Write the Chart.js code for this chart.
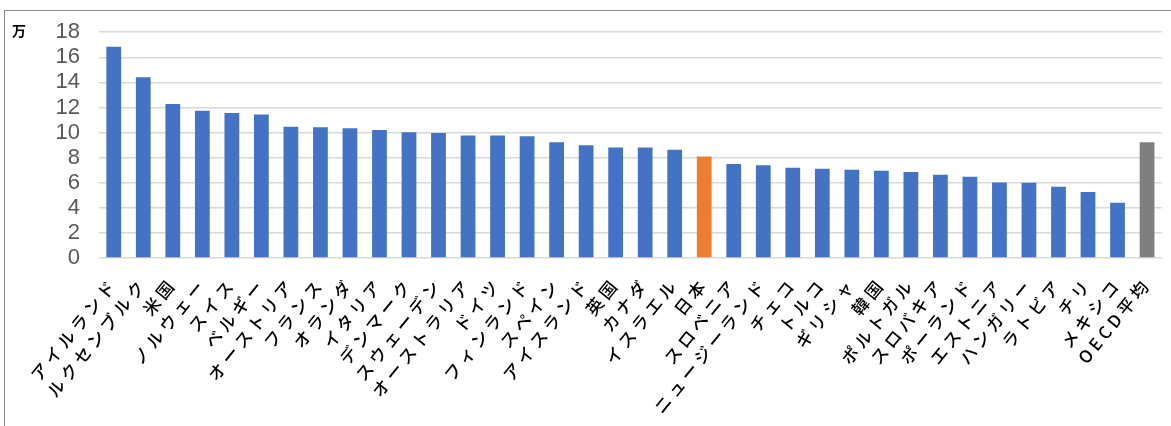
<!DOCTYPE html>
<html>
<head>
<meta charset="utf-8">
<script src="https://cdn.jsdelivr.net/npm/chart.js@4/dist/chart.umd.min.js"></script>
<style>
    html, body { margin: 0; padding: 0; background: #fff; }
    #wrap { position: relative; width: 1171px; height: 426px; overflow: hidden; }
    #frame { position: absolute; left: 4px; top: 10px; width: 1300px; height: 600px;
             border-left: 1.5px solid #8c8c8c; border-top: 1.5px solid #8c8c8c; }
    #chart { position: absolute; left: 0; top: 0; }
</style>
</head>
<body>
<div id="wrap">
    <div id="frame"></div>
    <canvas id="chart" width="1171" height="426"></canvas>
</div>
<script>
// Countries, ordered as in the reference
const countries = [
    'アイルランド', 'ルクセンブルク', '米国', 'ノルウェー', 'スイス', 'ベルギー',
    'オーストリア', 'フランス', 'オランダ', 'イタリア', 'デンマーク', 'スウェーデン',
    'オーストラリア', 'ドイツ', 'フィンランド', 'スペイン', 'アイスランド', '英国',
    'カナダ', 'イスラエル', '日本', 'スロベニア', 'ニュージーランド', 'チェコ',
    'トルコ', 'ギリシャ', '韓国', 'ポルトガル', 'スロバキア', 'ポーランド',
    'エストニア', 'ハンガリー', 'ラトビア', 'チリ', 'メキシコ', 'OECD平均'
];

// Values in 万
const values = [
    16.85, 14.4, 12.27, 11.74, 11.56, 11.43,
    10.47, 10.42, 10.34, 10.21, 10.03, 9.97,
    9.77, 9.77, 9.71, 9.22, 8.98, 8.8,
    8.8, 8.62, 8.1, 7.5, 7.4, 7.19,
    7.11, 7.03, 6.95, 6.85, 6.64, 6.48,
    6.02, 6.0, 5.68, 5.26, 4.4, 9.22
];

const yMin = 0;
const yMax = 18;
const yStep = 2;
const unitLabel = '万';

const BLUE = '#4472c4';
const ORANGE = '#ed7d31';
const GRAY = '#7f7f7f';

// Japan highlighted, OECD average in gray
const barColors = countries.map(c => {
    if (c === '日本') return ORANGE;
    if (c === 'OECD平均') return GRAY;
    return BLUE;
});

// Wider spacing for the rotated category labels (drawn after the bars, z: 1)
const labelSpacing = {
    id: 'labelSpacing',
    afterDatasetsDraw(chart) { chart.ctx.letterSpacing = '4px'; },
    afterDraw(chart) { chart.ctx.letterSpacing = '0px'; }
};

// Unit text in the upper left corner
const unitText = {
    id: 'unitText',
    afterDraw(chart) {
        const ctx = chart.ctx;
        ctx.save();
        ctx.letterSpacing = '0px';
        ctx.font = 'bold 14px "Noto Sans CJK JP"';
        ctx.fillStyle = '#000';
        ctx.textAlign = 'left';
        ctx.textBaseline = 'middle';
        ctx.fillText(unitLabel, 12, 31);
        ctx.restore();
    }
};

const ctx = document.getElementById('chart').getContext('2d');
new Chart(ctx, {
    type: 'bar',
    data: {
        labels: countries,
        datasets: [{
            data: values,
            backgroundColor: barColors,
            borderWidth: 0,
            barPercentage: 0.5,
            categoryPercentage: 1.0
        }]
    },
    options: {
        responsive: false,
        animation: false,
        layout: { padding: { top: 27, right: 6, left: 0, bottom: 0 } },
        plugins: {
            legend: { display: false },
            tooltip: { enabled: false }
        },
        scales: {
            x: {
                grid: { display: false },
                border: { display: false },
                ticks: {
                    autoSkip: false,
                    maxRotation: 51,
                    minRotation: 51,
                    padding: 8,
                    z: 1,
                    color: '#000',
                    font: { family: '"Noto Sans CJK JP"', size: 17, weight: 500 }
                },
                afterFit(scale) { scale.height = 168; }
            },
            y: {
                min: yMin,
                max: yMax,
                grid: { color: '#d9d9d9', lineWidth: 1.5, drawTicks: false },
                border: { display: false },
                ticks: {
                    stepSize: yStep,
                    autoSkip: false,
                    padding: 19,
                    color: '#595959',
                    font: { family: '"Liberation Sans"', size: 22 }
                },
                afterFit(scale) { scale.width = 99; }
            }
        }
    },
    plugins: [labelSpacing, unitText]
});
</script>
</body>
</html>
